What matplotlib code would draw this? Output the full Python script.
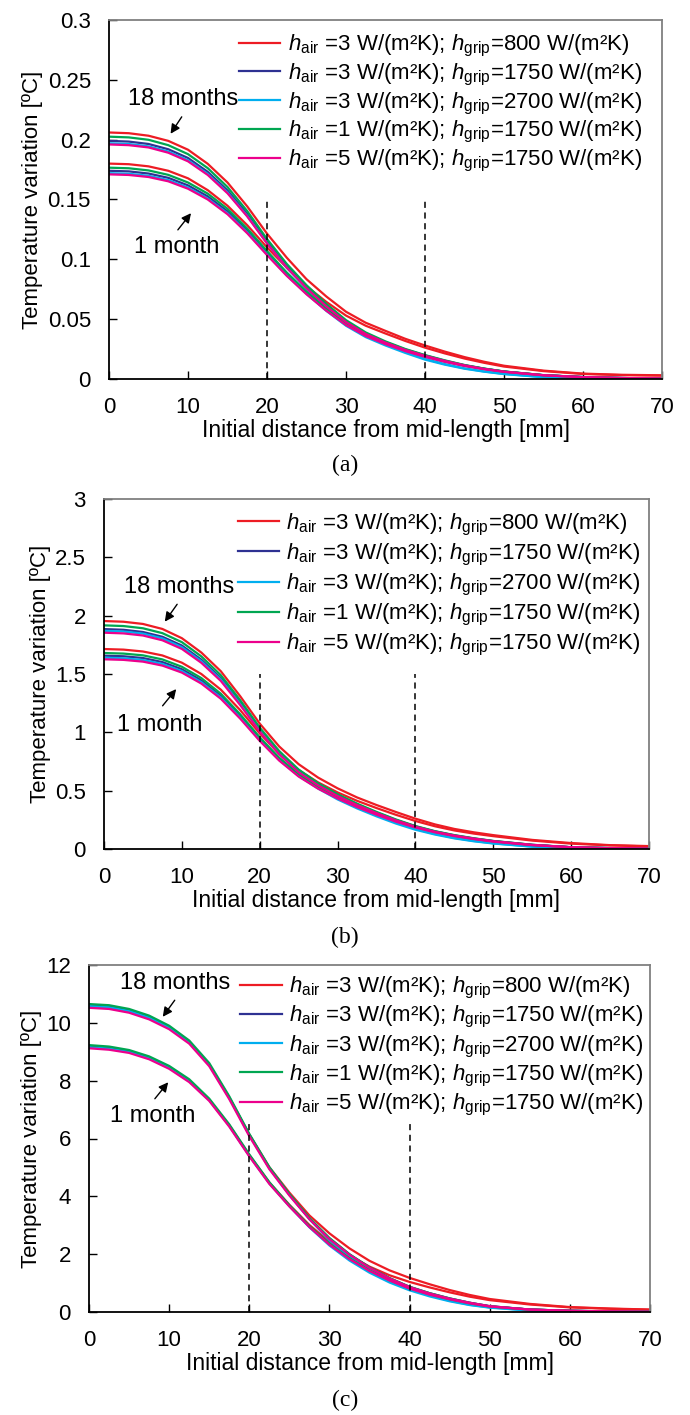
import matplotlib
matplotlib.use("Agg")
import matplotlib.pyplot as plt
from matplotlib.ticker import FuncFormatter, MultipleLocator

plt.rcParams['font.family'] = ['Liberation Sans', 'DejaVu Sans']
plt.rcParams['mathtext.fontset'] = 'custom'
plt.rcParams['mathtext.rm'] = 'Liberation Sans'
plt.rcParams['mathtext.it'] = 'Liberation Sans:italic'
plt.rcParams['mathtext.bf'] = 'Liberation Sans:bold'

# ---------------- data ----------------
x_mm = [0, 2.5, 5, 7.5, 10, 12.5, 15, 17.5, 20, 22.5, 25, 27.5, 30, 32.5, 35,
        37.5, 40, 42.5, 45, 47.5, 50, 55, 60, 65, 70]

series_labels = [
    r'$h_{\mathrm{air}}$ =3 W/(m²K); $h_{\mathrm{grip}}$=800 W/(m²K)',
    r'$h_{\mathrm{air}}$ =3 W/(m²K); $h_{\mathrm{grip}}$=1750 W/(m²K)',
    r'$h_{\mathrm{air}}$ =3 W/(m²K); $h_{\mathrm{grip}}$=2700 W/(m²K)',
    r'$h_{\mathrm{air}}$ =1 W/(m²K); $h_{\mathrm{grip}}$=1750 W/(m²K)',
    r'$h_{\mathrm{air}}$ =5 W/(m²K); $h_{\mathrm{grip}}$=1750 W/(m²K)',
]
series_colors = ['#ED1C24', '#2E3192', '#00AEEF', '#00A651', '#EC008C']

# ---- panel (a) ----
a_18m_red = [0.206, 0.2054, 0.2033, 0.1990, 0.1916, 0.1798, 0.1642, 0.1442, 0.1215, 0.1014, 0.0834, 0.0690, 0.0562,
             0.0470, 0.0402, 0.0336, 0.0280, 0.0229, 0.0183, 0.0144, 0.0111, 0.0070, 0.0045, 0.0035, 0.0031]
a_18m_blue = [0.199, 0.1984, 0.1964, 0.1920, 0.1847, 0.1731, 0.1576, 0.1379, 0.1150, 0.0945, 0.0770, 0.0617, 0.0484,
              0.0382, 0.0308, 0.0247, 0.0197, 0.0153, 0.0115, 0.0086, 0.0062, 0.0032, 0.0016, 0.0008, 0.0004]
a_18m_cyan = [0.197, 0.1964, 0.1944, 0.1901, 0.1828, 0.1714, 0.1560, 0.1363, 0.1135, 0.0930, 0.0755, 0.0600, 0.0463,
              0.0363, 0.0292, 0.0227, 0.0168, 0.0125, 0.0089, 0.0063, 0.0043, 0.0016, 0.0006, 0.0002, 0.0]
a_18m_green = [0.2025, 0.2019, 0.1999, 0.1954, 0.1879, 0.1762, 0.1604, 0.1403, 0.1170, 0.0962, 0.0784, 0.0628, 0.0492,
               0.0389, 0.0314, 0.0251, 0.0200, 0.0156, 0.0117, 0.0087, 0.0063, 0.0032, 0.0016, 0.0008, 0.0004]
a_18m_magenta = [0.196, 0.1954, 0.1935, 0.1891, 0.1819, 0.1705, 0.1552, 0.1358, 0.1133, 0.0931, 0.0759, 0.0608, 0.0476,
                 0.0376, 0.0304, 0.0243, 0.0194, 0.0151, 0.0114, 0.0084, 0.0061, 0.0031, 0.0016, 0.0008, 0.0004]
a_1m_red = [0.180, 0.1795, 0.1777, 0.1740, 0.1677, 0.1578, 0.1448, 0.1285, 0.1100, 0.0930, 0.0775, 0.0645, 0.0530,
            0.0445, 0.0380, 0.0318, 0.0262, 0.0214, 0.0171, 0.0135, 0.0104, 0.0066, 0.0042, 0.0032, 0.0028]
a_1m_blue = [0.174, 0.1735, 0.1717, 0.1681, 0.1618, 0.1526, 0.1401, 0.1239, 0.1054, 0.0877, 0.0720, 0.0581, 0.0459,
             0.0365, 0.0296, 0.0237, 0.0188, 0.0146, 0.0111, 0.0084, 0.0061, 0.0031, 0.0016, 0.0008, 0.0004]
a_1m_cyan = [0.172, 0.1715, 0.1698, 0.1662, 0.1600, 0.1508, 0.1385, 0.1225, 0.1042, 0.0867, 0.0712, 0.0570, 0.0445,
             0.0350, 0.0280, 0.0218, 0.0162, 0.0120, 0.0086, 0.0061, 0.0041, 0.0015, 0.0006, 0.0002, 0.0]
a_1m_green = [0.1766, 0.1761, 0.1743, 0.1706, 0.1642, 0.1549, 0.1422, 0.1257, 0.1070, 0.0890, 0.0731, 0.0590, 0.0466,
              0.0371, 0.0300, 0.0240, 0.0191, 0.0148, 0.0113, 0.0085, 0.0062, 0.0032, 0.0016, 0.0008, 0.0004]
a_1m_magenta = [0.171, 0.1705, 0.1688, 0.1652, 0.1590, 0.1500, 0.1377, 0.1218, 0.1036, 0.0862, 0.0708, 0.0571, 0.0451,
                0.0359, 0.0291, 0.0233, 0.0185, 0.0144, 0.0109, 0.0082, 0.0060, 0.0031, 0.0015, 0.0008, 0.0004]

# ---- panel (b) ----
b_18m_red = [1.954, 1.948, 1.929, 1.886, 1.807, 1.684, 1.524, 1.309, 1.075, 0.879, 0.727, 0.612, 0.520,
             0.442, 0.377, 0.317, 0.260, 0.211, 0.172, 0.143, 0.119, 0.078, 0.051, 0.033, 0.025]
b_18m_blue = [1.885, 1.879, 1.860, 1.819, 1.744, 1.623, 1.465, 1.254, 1.024, 0.826, 0.669, 0.554, 0.462,
              0.383, 0.313, 0.249, 0.194, 0.151, 0.117, 0.090, 0.068, 0.036, 0.015, 0.008, 0.004]
b_18m_cyan = [1.870, 1.864, 1.846, 1.805, 1.730, 1.610, 1.453, 1.244, 1.015, 0.819, 0.664, 0.548, 0.445,
              0.365, 0.294, 0.228, 0.172, 0.129, 0.095, 0.069, 0.049, 0.021, 0.007, 0.003, 0.001]
b_18m_green = [1.917, 1.911, 1.892, 1.850, 1.773, 1.651, 1.490, 1.275, 1.041, 0.840, 0.681, 0.564, 0.470,
               0.389, 0.318, 0.253, 0.197, 0.153, 0.119, 0.092, 0.069, 0.036, 0.015, 0.008, 0.004]
b_18m_magenta = [1.854, 1.848, 1.830, 1.789, 1.715, 1.596, 1.441, 1.233, 1.007, 0.812, 0.658, 0.545, 0.454,
                 0.376, 0.308, 0.245, 0.191, 0.148, 0.115, 0.089, 0.067, 0.035, 0.015, 0.007, 0.004]
b_1m_red = [1.714, 1.709, 1.693, 1.659, 1.597, 1.500, 1.366, 1.190, 0.991, 0.816, 0.677, 0.571, 0.485,
            0.413, 0.351, 0.293, 0.240, 0.195, 0.159, 0.132, 0.110, 0.072, 0.046, 0.031, 0.022]
b_1m_blue = [1.657, 1.652, 1.637, 1.602, 1.541, 1.445, 1.312, 1.138, 0.944, 0.772, 0.633, 0.527, 0.441,
             0.366, 0.300, 0.239, 0.187, 0.146, 0.113, 0.086, 0.065, 0.033, 0.015, 0.007, 0.003]
b_1m_cyan = [1.640, 1.635, 1.620, 1.586, 1.525, 1.430, 1.299, 1.127, 0.935, 0.764, 0.626, 0.518, 0.425,
             0.348, 0.280, 0.218, 0.165, 0.124, 0.091, 0.066, 0.047, 0.020, 0.007, 0.003, 0.001]
b_1m_green = [1.680, 1.675, 1.660, 1.625, 1.562, 1.465, 1.331, 1.154, 0.958, 0.783, 0.642, 0.534, 0.447,
              0.371, 0.304, 0.242, 0.190, 0.148, 0.114, 0.087, 0.066, 0.034, 0.015, 0.007, 0.003]
b_1m_magenta = [1.626, 1.621, 1.606, 1.572, 1.512, 1.418, 1.288, 1.117, 0.927, 0.758, 0.621, 0.517, 0.433,
                0.359, 0.294, 0.234, 0.184, 0.143, 0.111, 0.085, 0.063, 0.033, 0.015, 0.007, 0.003]

# ---- panel (c) ----
c_18m_red = [10.58, 10.54, 10.41, 10.18, 9.84, 9.33, 8.55, 7.41, 6.14, 5.01, 4.13, 3.34, 2.72,
             2.20, 1.77, 1.44, 1.18, 0.96, 0.76, 0.59, 0.45, 0.28, 0.17, 0.12, 0.085]
c_18m_blue = [10.60, 10.56, 10.43, 10.20, 9.86, 9.35, 8.56, 7.42, 6.13, 4.98, 4.06, 3.23, 2.54,
              1.99, 1.54, 1.17, 0.87, 0.65, 0.47, 0.32, 0.20, 0.085, 0.042, 0.021, 0.011]
c_18m_cyan = [10.58, 10.54, 10.41, 10.18, 9.84, 9.33, 8.55, 7.41, 6.12, 4.97, 4.05, 3.21, 2.48,
              1.92, 1.45, 1.08, 0.79, 0.57, 0.39, 0.25, 0.16, 0.053, 0.021, 0.011, 0.0]
c_18m_green = [10.65, 10.61, 10.48, 10.25, 9.90, 9.39, 8.61, 7.46, 6.16, 5.01, 4.08, 3.25, 2.56,
               2.00, 1.54, 1.17, 0.87, 0.65, 0.47, 0.32, 0.20, 0.085, 0.043, 0.021, 0.011]
c_18m_magenta = [10.52, 10.48, 10.35, 10.12, 9.78, 9.28, 8.50, 7.36, 6.08, 4.94, 4.03, 3.21, 2.52,
                 1.98, 1.53, 1.16, 0.86, 0.64, 0.46, 0.32, 0.20, 0.084, 0.042, 0.021, 0.011]
c_1m_red = [9.18, 9.13, 9.01, 8.79, 8.46, 8.00, 7.34, 6.46, 5.43, 4.48, 3.71, 3.01, 2.43,
            1.96, 1.57, 1.27, 1.04, 0.85, 0.68, 0.53, 0.41, 0.26, 0.16, 0.11, 0.078]
c_1m_blue = [9.17, 9.12, 9.01, 8.78, 8.45, 8.00, 7.34, 6.45, 5.41, 4.46, 3.67, 2.95, 2.35,
             1.84, 1.43, 1.09, 0.82, 0.61, 0.44, 0.30, 0.19, 0.083, 0.041, 0.018, 0.009]
c_1m_cyan = [9.16, 9.11, 9.00, 8.78, 8.45, 7.99, 7.33, 6.44, 5.40, 4.45, 3.66, 2.93, 2.30,
             1.78, 1.36, 1.02, 0.75, 0.54, 0.37, 0.24, 0.15, 0.05, 0.02, 0.01, 0.0]
c_1m_green = [9.23, 9.18, 9.06, 8.84, 8.51, 8.05, 7.38, 6.49, 5.45, 4.49, 3.69, 2.97, 2.36,
              1.86, 1.44, 1.10, 0.82, 0.61, 0.44, 0.30, 0.19, 0.083, 0.042, 0.018, 0.009]
c_1m_magenta = [9.12, 9.07, 8.96, 8.74, 8.41, 7.95, 7.30, 6.41, 5.38, 4.43, 3.65, 2.94, 2.33,
                1.83, 1.42, 1.09, 0.81, 0.60, 0.44, 0.30, 0.19, 0.082, 0.041, 0.018, 0.009]

panel_data = [
    ([a_18m_red, a_18m_blue, a_18m_cyan, a_18m_green, a_18m_magenta],
     [a_1m_red, a_1m_blue, a_1m_cyan, a_1m_green, a_1m_magenta]),
    ([b_18m_red, b_18m_blue, b_18m_cyan, b_18m_green, b_18m_magenta],
     [b_1m_red, b_1m_blue, b_1m_cyan, b_1m_green, b_1m_magenta]),
    ([c_18m_red, c_18m_blue, c_18m_cyan, c_18m_green, c_18m_magenta],
     [c_1m_red, c_1m_blue, c_1m_cyan, c_1m_green, c_1m_magenta]),
]

y_max = [0.3, 3, 12]
y_step = [0.05, 0.5, 2]
dashed_x = [20, 40]
dashed_top = [0.15, 1.5, 6.5]
panel_tags = ['(a)', '(b)', '(c)']

# annotation positions (data coords): text xy, arrow start, arrow tip
ann_18 = [((9.4, 0.234), (9.4, 0.221), (7.6, 0.203)),
          ((9.6, 2.246), (9.6, 2.117), (7.6, 1.929)),
          ((10.7, 11.38), (10.9, 10.86), (9.0, 10.13))]
ann_1 = [((8.6, 0.110), (8.5, 0.1228), (10.6, 0.1404)),
         ((7.1, 1.063), (7.3, 1.209), (9.5, 1.389)),
         ((7.9, 6.78), (8.0, 7.30), (10.1, 8.02))]

# ---------------- layout ----------------
W, H = 690, 1415
fig = plt.figure(figsize=(W / 100, H / 100), dpi=100)

axes_px = [  # left, right, top, bottom in pixels
    (109, 662, 20, 379),
    (104, 649, 499, 849),
    (89, 650, 965, 1312),
]
legend_anchor = [(0.235, 0.964), (0.245, 0.964), (0.27, 0.971)]
legend_spacing = [0.12, 0.18, 0.14]
tag_y = [465, 937, 1400]

for i, (l, r, t, b) in enumerate(axes_px):
    ax = fig.add_axes([l / W, 1 - b / H, (r - l) / W, (b - t) / H])
    s18, s1 = panel_data[i]
    handles = []
    for k in range(5):
        h, = ax.plot(x_mm, s18[k], color=series_colors[k], lw=1.6, label=series_labels[k])
        ax.plot(x_mm, s1[k], color=series_colors[k], lw=1.6)
        handles.append(h)
    ax.vlines(dashed_x, 0, dashed_top[i], colors='black', linestyles=(0, (4, 3)), lw=1.1)

    ax.set_xlim(0, 70)
    ax.set_ylim(0, y_max[i])
    ax.xaxis.set_major_locator(MultipleLocator(10))
    ax.yaxis.set_major_locator(MultipleLocator(y_step[i]))
    ax.yaxis.set_major_formatter(FuncFormatter(lambda v, p: '%g' % round(v, 4)))
    ax.tick_params(direction='in', length=6, width=1, labelsize=16, pad=13)
    for sp in ['left', 'bottom']:
        ax.spines[sp].set_color('black')
        ax.spines[sp].set_linewidth(1.3)
    for sp in ['top', 'right']:
        ax.spines[sp].set_color('#808080')
        ax.spines[sp].set_linewidth(1.3)
    ax.set_xlabel('Initial distance from mid-length [mm]', fontsize=16.5, labelpad=1)
    ax.set_ylabel('Temperature variation [ºC]', fontsize=16, labelpad=3)

    ax.legend(handles=handles, loc='upper left', bbox_to_anchor=legend_anchor[i],
              frameon=False, fontsize=16, handlelength=1.85, handletextpad=0.35,
              labelspacing=legend_spacing[i], borderaxespad=0, borderpad=0)

    (tx, ty), (sx, sy), (ex, ey) = ann_18[i]
    ax.text(tx, ty, '18 months', fontsize=17, ha='center', va='center')
    ax.annotate('', xy=(ex, ey), xytext=(sx, sy),
                arrowprops=dict(arrowstyle='-|>', color='black', lw=1.0, mutation_scale=14))
    (tx, ty), (sx, sy), (ex, ey) = ann_1[i]
    ax.text(tx, ty, '1 month', fontsize=17, ha='center', va='center')
    ax.annotate('', xy=(ex, ey), xytext=(sx, sy),
                arrowprops=dict(arrowstyle='-|>', color='black', lw=1.0, mutation_scale=14))

    fig.text(0.5, 1 - tag_y[i] / H, panel_tags[i], fontsize=17, ha='center', va='center',
             family=['Liberation Serif', 'DejaVu Serif'])

fig.savefig('out.png', dpi=100)
